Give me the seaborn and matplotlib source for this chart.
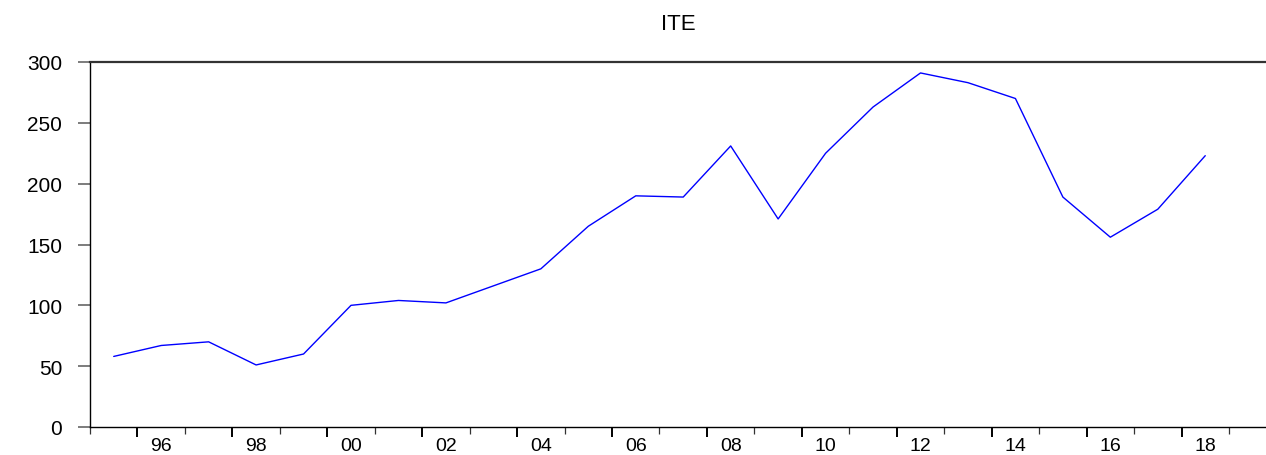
import matplotlib

matplotlib.use("Agg")
import matplotlib.pyplot as plt
import numpy as np
import pandas as pd
import seaborn as sns

# ITE annual series, 1995-2018
years = list(range(1995, 2019))
ite = [58, 67, 70, 51, 60, 100, 104, 102, 116, 130, 165, 190, 189, 231,
       171, 225, 263, 291, 283, 270, 189, 156, 179, 223]
yticks = [0, 50, 100, 150, 200, 250, 300]
label_years = list(range(1996, 2019, 2))
label_text = [f"{y % 100:02d}" for y in label_years]

sns.set_theme(style="white")
plt.rcParams["font.family"] = ["Liberation Sans", "DejaVu Sans"]
plt.rcParams["text.color"] = "black"
plt.rcParams["xtick.labelcolor"] = "black"
plt.rcParams["ytick.labelcolor"] = "black"

df = pd.DataFrame({"year": years, "ITE": ite})

fig = plt.figure(figsize=(12.66, 4.56), dpi=100)
ax = fig.add_axes([90 / 1266, 28 / 456, 1 - 90 / 1266, 365 / 456])

sns.lineplot(data=df, x="year", y="ITE", ax=ax, color="#0000ff", linewidth=1.0)

ax.set_xlim(1994.5, 2019.28)
ax.set_ylim(0, 300)
ax.set_xlabel("")
ax.set_ylabel("")
ax.set_title("ITE", fontsize=16, pad=24, color="black")

# y axis
ax.set_yticks(yticks)
ax.tick_params(axis="y", which="major", direction="out", length=9, width=1.2,
               color="#666666", labelsize=15, pad=11, left=True,
               labelcolor="black")

# x axis: ticks on year boundaries, labels centred on even years
major_b = np.arange(1995.5, 2018, 2)
minor_b = np.arange(1994.5, 2019, 2)
ax.set_xticks(major_b)
ax.set_xticks(minor_b, minor=True)
ax.set_xticklabels([])
ax.tick_params(axis="x", which="major", direction="out", length=7, width=1.4,
               color="black", bottom=True)
ax.tick_params(axis="x", which="minor", direction="out", length=5, width=0.9,
               color="#333333", bottom=True)

sec = ax.secondary_xaxis("bottom")
sec.set_xticks(label_years)
sec.set_xticklabels(label_text)
sec.tick_params(length=0, labelsize=14, pad=7, labelcolor="black")
sec.spines["bottom"].set_visible(False)

for side in ["left", "bottom", "top"]:
    ax.spines[side].set_visible(True)
    ax.spines[side].set_color("black")
    ax.spines[side].set_linewidth(1.0)
ax.spines["top"].set_color("#333333")
ax.spines["top"].set_linewidth(1.6)
ax.spines["right"].set_visible(False)

fig.savefig("out.png", dpi=100, facecolor="white")
